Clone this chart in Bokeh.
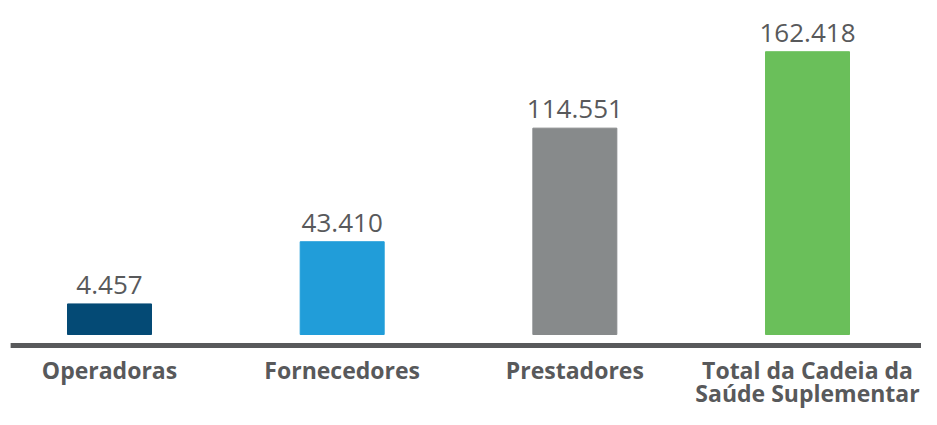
from bokeh.plotting import figure
from bokeh.models import ColumnDataSource, Range1d
from bokeh.core.properties import value
from bokeh.embed import file_html
from bokeh.resources import INLINE

categories = ["Operadoras", "Fornecedores", "Prestadores", "Total da Cadeia da\nSaúde Suplementar"]
values = [4457, 43410, 114551, 162418]
value_labels = ["4.457", "43.410", "114.551", "162.418"]
colors = ["#044a75", "#219dd9", "#878a8b", "#6abf5a"]

xs = list(range(len(categories)))
X_START, X_END = -0.4685, 3.4899
Y_START, Y_END = -61660, 194500
BAR_BASE = -14690       # visual baseline of the bars (below zero, as in the original design)
AXIS_Y = -21580
AXIS_X0 = -0.425
CAT_Y = -27000

src = ColumnDataSource(dict(x=xs, top=values, bottom=[BAR_BASE] * len(xs),
                            color=colors, lab=value_labels, cat=categories,
                            cy=[CAT_Y] * len(xs)))

p = figure(width=921, height=409, output_backend="svg", toolbar_location=None,
           x_range=Range1d(X_START, X_END), y_range=Range1d(Y_START, Y_END),
           x_axis_type=None, y_axis_type=None, min_border=0)
p.outline_line_color = None
p.grid.visible = False

p.vbar(x="x", top="top", bottom="bottom", width=0.361, color="color", source=src)

p.segment(x0=[AXIS_X0], y0=[AXIS_Y], x1=[X_END], y1=[AXIS_Y],
          line_color="#58595b", line_width=5)

p.text(x="x", y="top", text="lab", source=src, y_offset=-19,
       text_align="center", text_baseline="alphabetic",
       text_font=value("Open Sans"), text_font_size="26px", text_color="#58595b")

p.text(x="x", y="cy", text="cat", source=src,
       text_align="center", text_baseline="top", text_line_height=0.70,
       text_font=value("Open Sans"), text_font_style="bold",
       text_font_size="23px", text_color="#58595b")

open("out.html", "w").write(file_html(p, INLINE))
